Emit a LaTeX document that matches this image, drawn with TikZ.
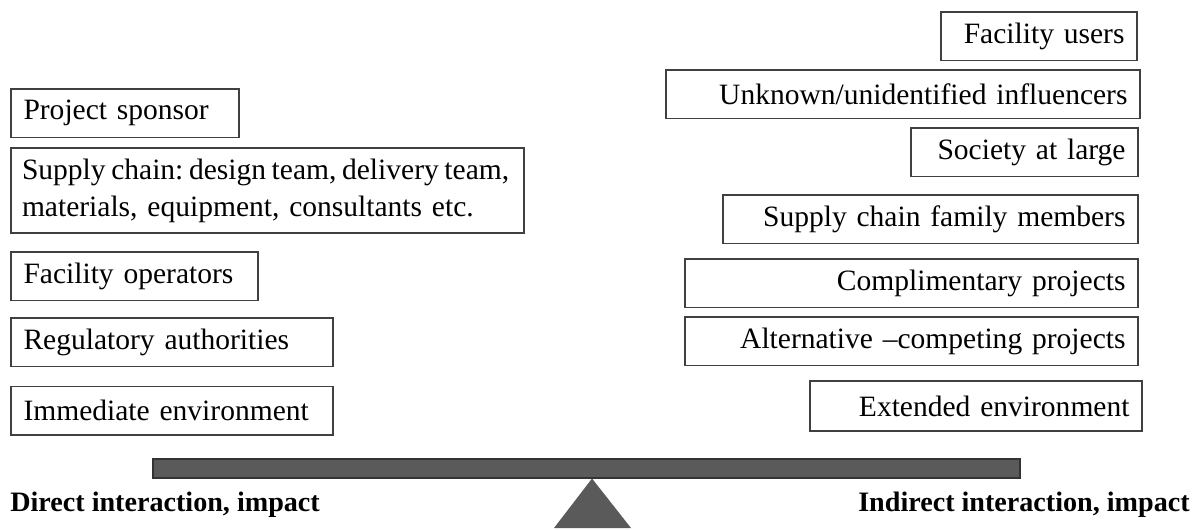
\documentclass[tikz,border=0pt]{standalone}
\usepackage{fontspec}
\setmainfont{Liberation Serif}
\usepackage{xcolor}
\definecolor{beamgray}{HTML}{5A5A5A}

\begin{document}
\frenchspacing
\begin{tikzpicture}[
  % Box Styles
  lbox/.style={rectangle, draw=black!75, line width=0.9pt, outer sep=0pt, anchor=north west, align=left, inner xsep=0.25cm, minimum height=0.97cm, text width=#1},
  rbox/.style={rectangle, draw=black!75, line width=0.9pt, outer sep=0pt, anchor=north east, align=right, inner xsep=0.25cm, minimum height=0.97cm, text width=#1},
  % Label Style
  sidelabel/.style={font=\fontsize{16}{19}\bfseries\selectfont, inner sep=0pt}
]
\tikzset{font=\fontsize{16.8}{21}\selectfont}
\useasboundingbox (0,0) rectangle (24,-10.58);

% Direct side
\node[lbox=4.06cm] (sponsor) at (0.22,-1.78) {Project sponsor};
\node[lbox=9.82cm, inner xsep=0.22cm, minimum height=1.70cm] (supply) at (0.22,-2.96) {\mbox{\spaceskip=0.19em\relax Supply chain: design team, delivery team,}\\\mbox{materials, equipment, consultants etc.}};
\node[lbox=4.44cm] (operators) at (0.22,-5.04) {Facility operators};
\node[lbox=5.94cm] (regulators) at (0.22,-6.36) {Regulatory authorities};
\node[lbox=5.94cm] (immediate) at (0.22,-7.73) {Immediate environment};

% Indirect side
\node[rbox=3.42cm] (users) at (22.74,-0.24) {Facility users};
\node[rbox=8.98cm] (unknown) at (22.80,-1.40) {Unknown/unidentified influencers};
\node[rbox=4.04cm] (society) at (22.76,-2.56) {Society at large};
\node[rbox=7.80cm] (family) at (22.76,-3.90) {Supply chain family members};
\node[rbox=8.56cm] (compl) at (22.76,-5.18) {Complimentary projects};
\node[rbox=8.56cm] (alt) at (22.76,-6.34) {Alternative --competing projects};
\node[rbox=6.14cm, minimum height=1.0cm] (extended) at (22.84,-7.62) {Extended environment};

% Balance
\draw[fill=beamgray, draw=black!80, line width=0.8pt] (3.06,-9.18) rectangle (20.40,-9.56);
\fill[beamgray] (11.84,-9.57) -- (12.62,-10.56) -- (11.08,-10.56) -- cycle;

\node[sidelabel, anchor=west] (directlbl) at (0.20,-10.10) {Direct interaction, impact};
\node[sidelabel, anchor=east] (indirectlbl) at (23.80,-10.10) {Indirect interaction, impact};

\end{tikzpicture}
\end{document}
